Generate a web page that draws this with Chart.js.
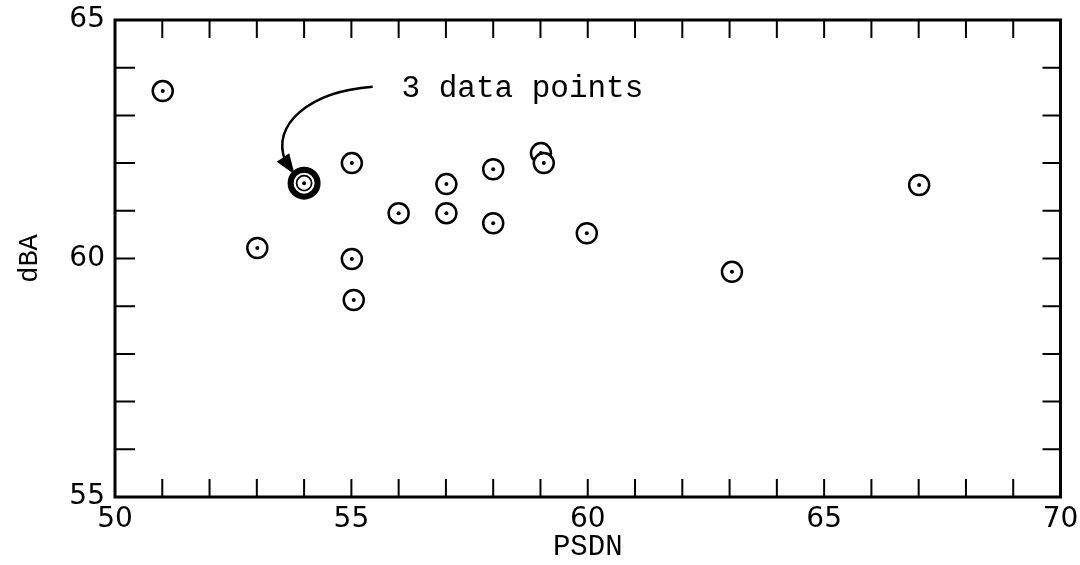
<!DOCTYPE html>
<html>
<head>
<meta charset="utf-8">
<script src="https://cdn.jsdelivr.net/npm/chart.js@4.4.1/dist/chart.umd.min.js"></script>
<style>
  html, body { margin: 0; padding: 0; background: #fff; }
  #wrap { width: 1080px; height: 565px; }
</style>
</head>
<body>
<div id="wrap"><canvas id="psdnChart"></canvas></div>
<script>
// readings
const psdnValues = [51.01, 53.01, 55.01, 55.01, 55.05, 56.0, 57.01, 57.01, 58.0, 58.0, 59.01, 59.07, 59.98, 63.05, 67.01];
const dbaValues  = [63.51, 60.22, 62.0, 59.99, 59.13, 60.95, 61.56, 60.95, 61.87, 60.74, 62.21, 62.0, 60.53, 59.72, 61.54];
// the three coincident readings
const triplePsdn = [54.0, 54.0, 54.0];
const tripleDba  = [61.58, 61.58, 61.58];
const xLabels = [50, 55, 60, 65, 70];
const yLabels = [55, 60, 65];

const monoFont = "'Liberation Mono', 'DejaVu Sans Mono', monospace";
const sansFont = "'DejaVu Sans', sans-serif";

const toPoints = (xs, ys) => xs.map((x, i) => ({ x: x, y: ys[i] }));

// inward ticks on all four sides, plus the frame
const frameTicks = {
    id: 'frameTicks',
    afterDraw(chart) {
        const { ctx, chartArea: a, scales: { x, y } } = chart;
        ctx.save();
        ctx.strokeStyle = '#000';
        ctx.lineWidth = 2;
        for (let v = 51; v < 70; v++) {
            const px = x.getPixelForValue(v);
            ctx.beginPath();
            ctx.moveTo(px, a.bottom); ctx.lineTo(px, a.bottom - 18);
            ctx.moveTo(px, a.top); ctx.lineTo(px, a.top + 18);
            ctx.stroke();
        }
        for (let v = 56; v < 65; v++) {
            const py = y.getPixelForValue(v);
            ctx.beginPath();
            ctx.moveTo(a.left, py); ctx.lineTo(a.left + 20, py);
            ctx.moveTo(a.right, py); ctx.lineTo(a.right - 18, py);
            ctx.stroke();
        }
        ctx.lineWidth = 3;
        ctx.strokeRect(a.left, a.top, a.right - a.left, a.bottom - a.top);
        ctx.restore();
    }
};

// "3 data points" note with curved arrow
const note = {
    id: 'note',
    afterDatasetsDraw(chart) {
        const { ctx, scales: { x, y } } = chart;
        const P = (dx, dy) => [x.getPixelForValue(dx), y.getPixelForValue(dy)];
        ctx.save();
        ctx.fillStyle = '#000';
        ctx.font = '31px ' + monoFont;
        ctx.textBaseline = 'middle';
        const [tx, ty] = P(56.06, 63.55);
        ctx.fillText('3 data points', tx, ty);

        const [sx, sy] = P(55.45, 63.6);
        const [c1x, c1y] = P(54.1, 63.5);
        const [c2x, c2y] = P(53.3, 62.8);
        const [ex, ey] = P(53.6, 62.05);
        ctx.strokeStyle = '#000';
        ctx.lineWidth = 2.5;
        ctx.beginPath();
        ctx.moveTo(sx, sy);
        ctx.bezierCurveTo(c1x, c1y, c2x, c2y, ex, ey);
        ctx.stroke();
        // arrowhead
        const [hx, hy] = P(53.8, 61.76);
        const ang = Math.atan2(hy - ey, hx - ex);
        ctx.beginPath();
        ctx.moveTo(hx, hy);
        ctx.lineTo(hx - 22 * Math.cos(ang - 0.35), hy - 22 * Math.sin(ang - 0.35));
        ctx.lineTo(hx - 22 * Math.cos(ang + 0.35), hy - 22 * Math.sin(ang + 0.35));
        ctx.closePath();
        ctx.fill();
        ctx.restore();
    }
};

const chart = new Chart(document.getElementById('psdnChart'), {
    type: 'scatter',
    data: {
        datasets: [
            {
                label: 'dots',
                order: 0,
                data: toPoints(psdnValues, dbaValues),
                pointRadius: 2,
                pointBorderWidth: 0,
                pointBackgroundColor: '#000'
            },
            {
                label: 'rings',
                order: 1,
                data: toPoints(psdnValues, dbaValues),
                pointStyle: 'circle',
                pointRadius: 10,
                pointBorderWidth: 2.5,
                pointBorderColor: '#000',
                pointBackgroundColor: '#fff'
            },
            {
                label: 'triple',
                order: 0,
                data: toPoints(triplePsdn, tripleDba),
                pointRadius: [13.5, 7.5, 2],
                pointBorderWidth: [6, 1.8, 0],
                pointBorderColor: '#000',
                pointBackgroundColor: ['#fff', '#fff', '#000']
            }
        ]
    },
    options: {
        responsive: true,
        maintainAspectRatio: false,
        animation: false,
        events: [],
        layout: { padding: { top: 20, right: 10, left: 0, bottom: 0 } },
        plugins: {
            legend: { display: false },
            tooltip: { enabled: false }
        },
        scales: {
            x: {
                type: 'linear',
                min: 50,
                max: 70,
                afterFit: s => { s.height = 68; s.paddingLeft = 0; s.paddingRight = 0; },
                afterBuildTicks: s => { s.ticks = xLabels.map(v => ({ value: v })); },
                grid: { display: false, drawTicks: false },
                border: { display: false },
                ticks: {
                    color: '#000',
                    padding: 6,
                    font: { family: sansFont, size: 28 },
                    maxRotation: 0
                },
                title: {
                    display: true,
                    text: 'PSDN',
                    color: '#000',
                    padding: 0,
                    font: { family: monoFont, size: 29 }
                }
            },
            y: {
                type: 'linear',
                min: 55,
                max: 65,
                afterFit: s => { s.width = 115; s.paddingTop = 0; s.paddingBottom = 0; },
                afterBuildTicks: s => { s.ticks = yLabels.map(v => ({ value: v })); },
                grid: { display: false, drawTicks: false },
                border: { display: false },
                ticks: {
                    color: '#000',
                    padding: 10,
                    font: { family: sansFont, size: 28 }
                },
                title: {
                    display: true,
                    text: 'dBA',
                    color: '#000',
                    padding: { top: 14, bottom: 0 },
                    font: { family: monoFont, size: 27 }
                }
            }
        }
    },
    plugins: [frameTicks, note]
});
</script>
</body>
</html>
